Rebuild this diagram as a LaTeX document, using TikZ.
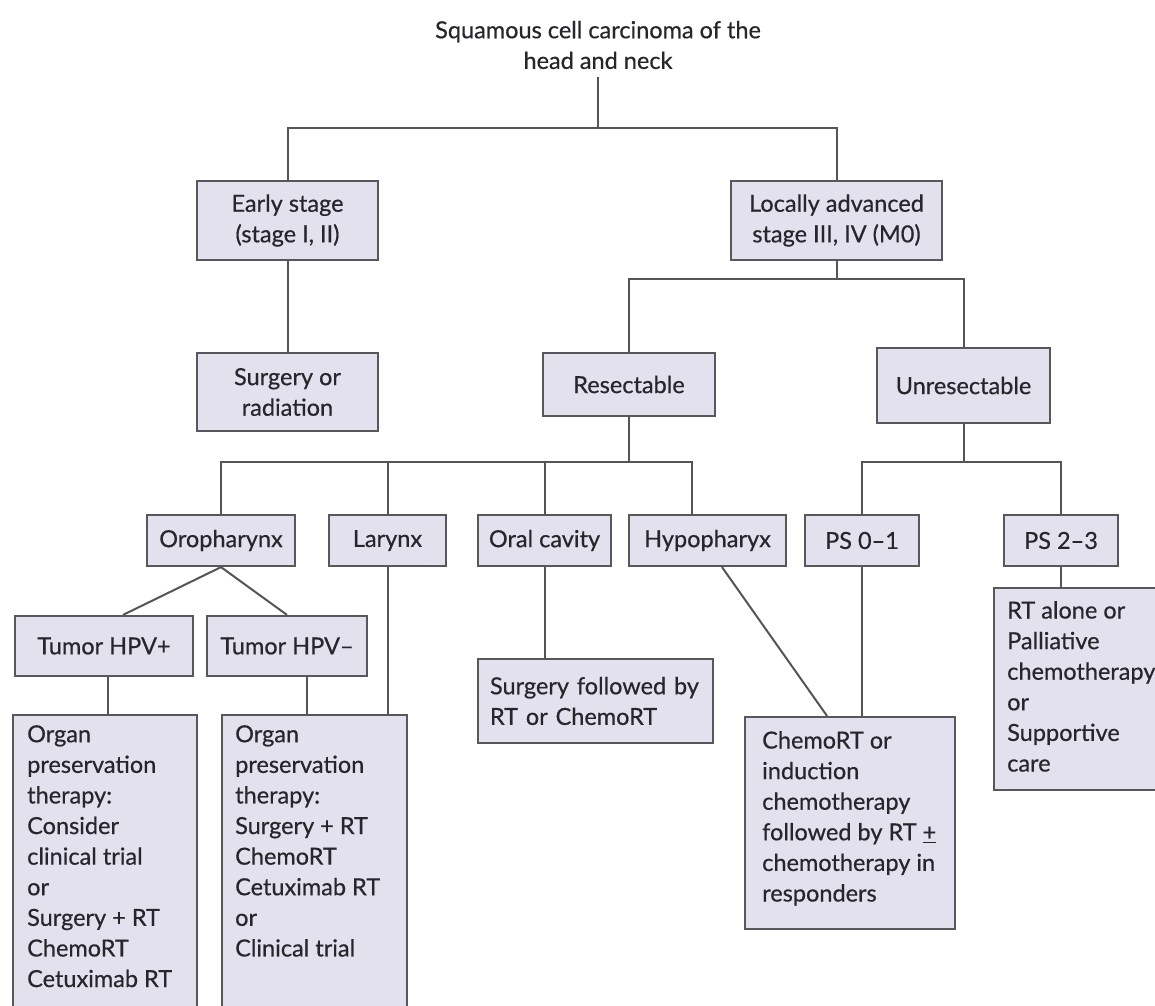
\documentclass[tikz,border=0pt]{standalone}
\usepackage{fontspec}
\setmainfont{Lato}[FakeBold=0.5]
\usetikzlibrary{calc}
\definecolor{boxfill}{RGB}{227,225,238}
\definecolor{boxline}{RGB}{88,88,92}
\definecolor{wirecol}{RGB}{85,85,88}
\definecolor{ink}{RGB}{38,38,44}

\begin{document}
\begin{tikzpicture}[x=1pt,y=-1pt,
  every node/.style={font=\fontsize{23.5}{30.6}\selectfont, text=ink},
  box/.style={draw=boxline, fill=boxfill, line width=2.2pt, inner sep=0pt, align=center},
  body/.style={inner sep=0pt, align=left, anchor=north west},
  wire/.style={draw=wirecol, line width=2pt},
]
\useasboundingbox[fill=white] (0,0) rectangle (1155,1005);

% title
\node[align=center, inner sep=0pt, outer sep=8pt] (title) at (598,45)
  {Squamous cell carcinoma of the\\head and neck};

% stage level
\node[box, minimum width=181, minimum height=79] (early) at (287.5,220.5)
  {Early stage\\(stage I, II)};
\node[box, minimum width=211, minimum height=79] (local) at (836.5,220.5)
  {Locally advanced\\stage III, IV (M0)};

% second level
\node[box, minimum width=181, minimum height=78] (surgrad) at (287.5,392)
  {Surgery or\\radiation};
\node[box, minimum width=172, minimum height=63] (res) at (629,384.5) {Resectable};
\node[box, minimum width=173, minimum height=75] (unres) at (963.5,385.5) {Unresectable};

% sites and performance status
\node[box, minimum width=148, minimum height=51] (oro) at (221,540.5) {Oropharynx};
\node[box, minimum width=117, minimum height=51] (lar) at (387.5,540.5) {Larynx};
\node[box, minimum width=133, minimum height=51] (oral) at (544.5,540.5) {Oral cavity};
\node[box, minimum width=157, minimum height=51] (hypo) at (707.5,540.5) {Hypopharyx};
\node[box, minimum width=114, minimum height=51] (ps01) at (862,540.5) {PS 0–1};
\node[box, minimum width=114, minimum height=51] (ps23) at (1061,540.5) {PS 2–3};

% HPV status
\node[box, minimum width=178, minimum height=60] (hpvp) at (104,646) {Tumor HPV+};
\node[box, minimum width=160, minimum height=60] (hpvm) at (287,646) {Tumor HPV–};

% treatment boxes
\node[box, minimum width=184, minimum height=305] (org1) at (105,867.5) {};
\node[body] (org1txt) at (27,725)
  {Organ\\preservation\\therapy:\\Consider\\clinical trial\\or\\Surgery + RT\\ChemoRT\\Cetuximab RT};
\node[box, minimum width=185, minimum height=305] (org2) at (314.5,867.5) {};
\node[body] (org2txt) at (235,725)
  {Organ\\preservation\\therapy:\\Surgery + RT\\ChemoRT\\Cetuximab RT\\or\\Clinical trial};
\node[box, align=left, text width=211, inner xsep=12pt, minimum height=84] (surg2) at (595.5,701)
  {Surgery followed by\\RT or ChemoRT};
\node[box, minimum width=210, minimum height=212] (chemo) at (850,823) {};
\node[body] (chemotxt) at (762,731)
  {ChemoRT or\\induction\\chemotherapy\\followed by RT \underline{+}\\chemotherapy in\\responders};
\node[box, minimum width=176, minimum height=202] (rt) at (1082,689) {};
\node[body] (rttxt) at (1007,601)
  {RT alone or\\Palliative\\chemotherapy\\or\\Supportive\\care};

% junction points
\coordinate (jt) at (598,128);
\coordinate (jl) at (836.5,279);
\coordinate (jr) at (629,462);
\coordinate (hypoin) at (692,462);
\coordinate (ju) at (963.5,462);
\coordinate (hpvpout) at ($(hpvp.south)+(4,0)$);
\coordinate (hpvpin) at ($(hpvp.north)+(19,0)$);
\coordinate (hpvmout) at ($(hpvm.south)+(20,0)$);
\coordinate (hypoout) at ($(hypo.south)+(14.5,0)$);
\coordinate (chemoin) at ($(chemo.north)+(-23,0)$);

% connectors
\draw[wire] (title.south) -- (jt);
\draw[wire] (early.north) |- (jt) -| (local.north);
\draw[wire] (early.south) -- (surgrad.north);
\draw[wire] (local.south) -- (jl);
\draw[wire] (res.north) |- (jl) -| (unres.north);
\draw[wire] (res.south) -- (jr);
\draw[wire] (oro.north) |- (jr) -- (hypoin) -- (hypoin |- hypo.north);
\draw[wire] (lar.north) -- (lar.north |- jr);
\draw[wire] (oral.north) -- (oral.north |- jr);
\draw[wire] (unres.south) -- (ju);
\draw[wire] (ps01.north) |- (ju) -| (ps23.north);
\draw[wire] (oro.south) -- (hpvpin);
\draw[wire] (oro.south) -- (hpvm.north);
\draw[wire] (hpvpout) -- (hpvpout |- org1.north);
\draw[wire] (hpvmout) -- (hpvmout |- org2.north);
\draw[wire] (lar.south) -- (lar.south |- org2.north);
\draw[wire] (oral.south) -- (oral.south |- surg2.north);
\draw[wire] (hypoout) -- (chemoin);
\draw[wire] (ps01.south) -- (ps01.south |- chemo.north);
\draw[wire] (ps23.south) -- (ps23.south |- rt.north);
\end{tikzpicture}
\end{document}
